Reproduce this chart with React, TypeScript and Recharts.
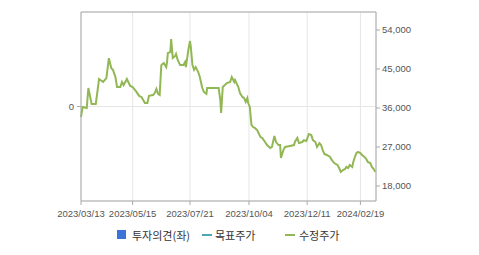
import * as React from 'react'
import {
  LineChart,
  Line,
  XAxis,
  YAxis,
  CartesianGrid,
  ReferenceLine } from 'recharts';

// x = chart day index from 2023/03/13
const days = [
  0, 2, 7, 9, 13, 18, 20, 22, 27, 31, 34, 37, 39, 42, 44, 48, 50, 52, 56, 60,
  63, 67, 71, 74, 78, 81, 83, 88, 90, 92, 94, 96, 98, 101, 104, 105, 106, 109, 110, 112,
  115, 116, 118, 121, 125, 127, 128, 131, 133, 134, 136, 138, 140, 143, 145, 148, 150, 153, 154, 168,
  170, 171, 172, 173, 178, 182, 184, 187, 188, 192, 194, 197, 199, 201, 203, 204, 206, 208, 210, 212,
  215, 219, 221, 223, 227, 231, 233, 236, 238, 241, 243, 244, 247, 249, 255, 260, 261, 264, 266, 270,
  272, 275, 276, 278, 281, 283, 286, 288, 291, 293, 295, 297, 300, 304, 306, 309, 313, 315, 317, 320,
  322, 324, 326, 328, 331, 332, 333, 336, 338, 341, 343, 346, 348, 350, 353, 355, 358, 359,
]
const prices = [
  33900, 36230, 36000, 40600, 36900, 36900, 39700, 42700, 42000, 42900, 47500, 45200, 44800, 43150, 40850, 40850, 42000, 41300, 42700, 41100,
  40850, 39900, 38800, 38500, 37150, 37150, 38800, 39000, 39450, 40400, 39250, 39000, 45900, 46400, 45450, 46600, 48700, 48900, 51900, 47550,
  48000, 48450, 47100, 45900, 45900, 46600, 45450, 49400, 51450, 50100, 45900, 44800, 45450, 44300, 43150, 40600, 39700, 39250, 40600, 40600,
  37850, 34850, 37850, 40850, 41750, 42000, 43150, 42000, 42450, 40850, 39450, 38550, 38300, 37400, 38300, 37150, 36250, 32100, 31600, 31400,
  30900, 29300, 29100, 28600, 27450, 26750, 27000, 29550, 28150, 27450, 27450, 24450, 26300, 27000, 27250, 27450, 28150, 29100, 27900, 28150,
  28600, 28400, 28850, 30000, 29750, 28600, 28150, 27000, 27900, 27450, 26300, 25400, 25150, 24700, 24000, 23300, 22850, 22150, 21250, 21700,
  21900, 22400, 22150, 22850, 22400, 23300, 24000, 25600, 25850, 25600, 25150, 24700, 24250, 23550, 23300, 22400, 21700, 21250,
]

const tickDays = [0, 63, 133, 205, 276, 341]
const tickLabels = ['2023/03/13', '2023/05/15', '2023/07/21', '2023/10/04', '2023/12/11', '2024/02/19']
const priceTicks = [18000, 27000, 36000, 45000, 54000]
const opinionTicks = [0]

// no investment opinion / target price points in this period
const data = days.map((d, i) => ({ day: d, price: prices[i], opinion: 0 }))

const PRICE_MIN = 14538
const PRICE_MAX = 58154
const axisColor = '#aaaaaa'
const textStyle = { fontSize: 9.5, fill: '#555', fontFamily: 'Liberation Sans, Arial, sans-serif' }

const legendText: React.CSSProperties = {
  position: 'absolute', top: 227, fontSize: 11, color: '#333',
  fontFamily: '"Noto Sans CJK KR", sans-serif', lineHeight: '16px',
}

const App = () => {
  return (
    <div style={{ position: 'absolute', left: 0, top: 0, width: 479, height: 255, background: '#fff' }}>
      <LineChart width={479} height={222} data={data} margin={{ top: 12, right: 0, left: 0, bottom: 0 }}>
        <CartesianGrid yAxisId="left" stroke="#e6e6e6" />
        <XAxis
          dataKey="day"
          type="number"
          domain={[0, 360]}
          ticks={tickDays}
          tickFormatter={(v: number) => tickLabels[tickDays.indexOf(v)]}
          height={21}
          tickSize={4}
          tickMargin={5}
          stroke={axisColor}
          tick={textStyle}
          interval={0}
        />
        <YAxis
          yAxisId="left"
          orientation="left"
          type="number"
          domain={[-1, 1]}
          ticks={opinionTicks}
          allowDataOverflow
          width={81}
          tickSize={4}
          tickMargin={3}
          stroke={axisColor}
          tick={textStyle}
        />
        <YAxis
          yAxisId="right"
          orientation="right"
          domain={[PRICE_MIN, PRICE_MAX]}
          ticks={priceTicks}
          tickFormatter={(v: number) => v.toLocaleString('en-US')}
          width={103}
          tickSize={4}
          tickMargin={2}
          stroke={axisColor}
          tick={{ ...textStyle, textAnchor: 'start' }}
        />
        <ReferenceLine yAxisId="right" y={PRICE_MAX} stroke={axisColor} />
        <Line
          yAxisId="left"
          dataKey="opinion"
          stroke="none"
          dot={false}
          isAnimationActive={false}
        />
        <Line
          yAxisId="right"
          type="linear"
          dataKey="price"
          stroke="#92b755"
          strokeWidth={2}
          dot={false}
          isAnimationActive={false}
        />
      </LineChart>
      <div style={{ position: 'absolute', left: 117, top: 230, width: 9, height: 9, background: '#3a74d8' }} />
      <div style={{ ...legendText, left: 132 }}>투자의견(좌)</div>
      <div style={{ position: 'absolute', left: 202, top: 234, width: 10, height: 2, background: '#4aa6b8' }} />
      <div style={{ ...legendText, left: 215 }}>목표주가</div>
      <div style={{ position: 'absolute', left: 285, top: 234, width: 10, height: 2, background: '#92b755' }} />
      <div style={{ ...legendText, left: 299 }}>수정주가</div>
    </div>
  )
}

export default App;
